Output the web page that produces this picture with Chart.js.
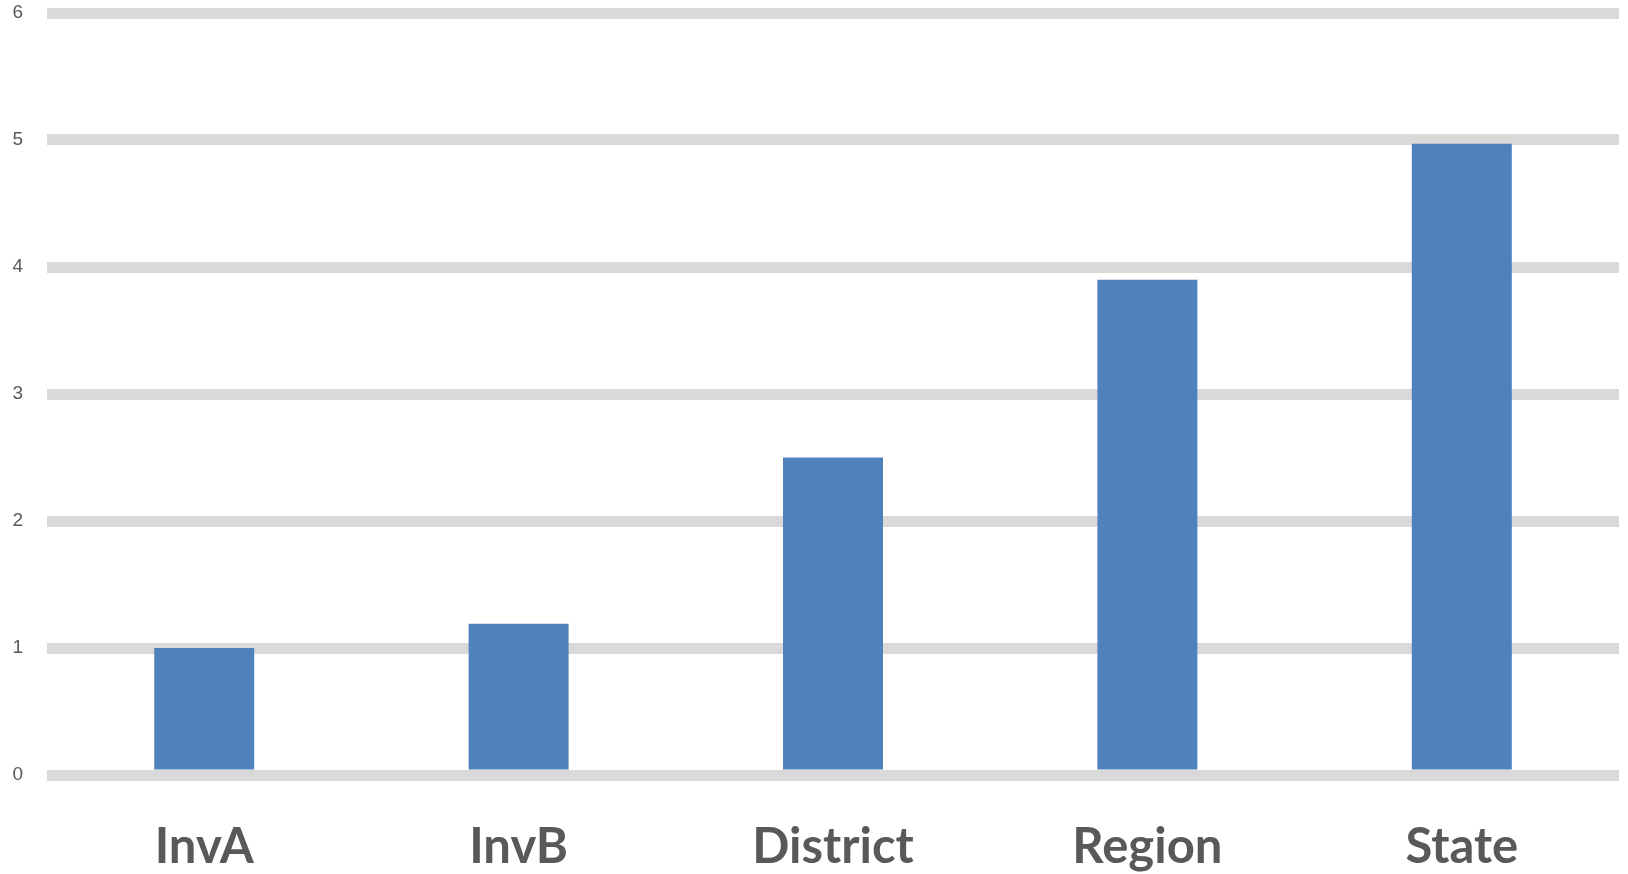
<!DOCTYPE html>
<html>
<head>
<meta charset="utf-8">
<script src="https://cdn.jsdelivr.net/npm/chart.js@4/dist/chart.umd.min.js"></script>
<style>
  html, body { margin: 0; padding: 0; background: #ffffff; }
  #wrap { position: relative; width: 1628px; height: 874px; }
</style>
</head>
<body>
<div id="wrap"><canvas id="chart"></canvas></div>
<script>
// Categories and their values
const categories = ["InvA", "InvB", "District", "Region", "State"];
const values = [1.0, 1.19, 2.5, 3.9, 4.97];
// Value axis range
const yMin = 0;
const yMax = 6;
const yStep = 1;

const ctx = document.getElementById("chart").getContext("2d");
new Chart(ctx, {
  type: "bar",
  data: {
    labels: categories,
    datasets: [{
      data: values,
      backgroundColor: "#4f81bd",
      borderWidth: 0,
      categoryPercentage: 1.0,
      barPercentage: 0.318
    }]
  },
  options: {
    responsive: true,
    maintainAspectRatio: false,
    animation: false,
    layout: { padding: { left: 0, right: 9, top: 13, bottom: 0 } },
    plugins: {
      legend: { display: false },
      title: { display: false },
      tooltip: { enabled: false }
    },
    scales: {
      x: {
        grid: { display: false, drawTicks: false },
        border: { display: false },
        afterFit: (scale) => { scale.height = 99; },
        ticks: {
          color: "#595959",
          padding: 43,
          autoSkip: false,
          maxRotation: 0,
          font: { family: "Lato", size: 49, weight: "bold" }
        }
      },
      y: {
        min: yMin,
        max: yMax,
        border: { display: false },
        grid: { color: "#d9d9d9", lineWidth: 11, drawTicks: false },
        afterFit: (scale) => {
          scale.width = 47;
          scale.paddingTop = 0;
          scale.paddingBottom = 0;
        },
        ticks: {
          stepSize: yStep,
          color: "#595959",
          padding: 24,
          font: { family: "Liberation Sans", size: 19 }
        }
      }
    }
  }
});
</script>
</body>
</html>
